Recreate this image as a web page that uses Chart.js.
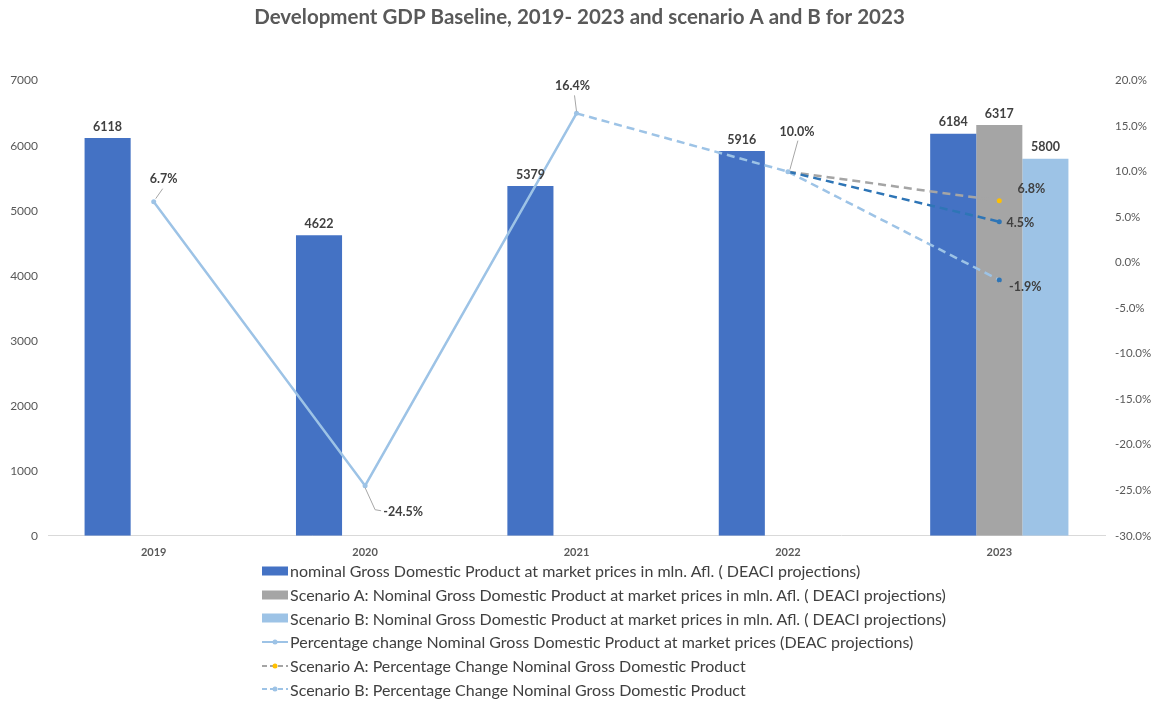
<!DOCTYPE html>
<html>
<head>
<meta charset="utf-8">
<script src="https://cdn.jsdelivr.net/npm/chart.js@4/dist/chart.umd.min.js"></script>
<style>
  body { margin: 0; background: #fff; font-family: Lato, "Open Sans", sans-serif; }
  #wrap { position: relative; width: 1163px; height: 702px; }
  #legend { position: absolute; left: 262px; top: 559px; }
  .item { display: flex; align-items: center; height: 23.7px; font-size: 16px; color: #404040; white-space: nowrap; }
  .item svg { margin-right: 2px; }
</style>
</head>
<body>
<div id="wrap">
  <canvas id="myChart"></canvas>
  <div id="legend"></div>
</div>
<script>
const years = ['2019', '2020', '2021', '2022', '2023'];

const gdpNominal = [6118, 4622, 5379, 5916, 6184];
const gdpScenarioA = [null, null, null, null, 6317];
const gdpScenarioB = [null, null, null, null, 5800];

const pctChange = [6.7, -24.5, 16.4, 10.0, 4.5];
const pctScenarioA = [null, null, null, 10.0, 6.8];
const pctScenarioB = [null, null, null, 10.0, -1.9];

const leftTicks = [0, 1000, 2000, 3000, 4000, 5000, 6000, 7000];
const rightTicks = [-30, -25, -20, -15, -10, -5, 0, 5, 10, 15, 20];

const BLUE = '#4472C4', GREY = '#A5A5A5', LIGHT = '#9DC3E6', DARK = '#2E75B6', ORANGE = '#FFC000';

// label placement for the percentage points (offset from the point, optional leader line)
const pctLabelPlacement = {
  3: [
    { dx: 10, dy: -23, leader: [2, -3, 9, -13] },
    { dx: 38, dy: 26, leader: [0, 2, 10, 24, 16, 25] },
    { dx: -4, dy: -27, leader: [0, -2, -2, -18] },
    { dx: 9, dy: -40, leader: [2, -2, 10, -31] },
    { dx: 21, dy: 1 }
  ],
  4: [null, null, null, null, { dx: 32, dy: -12 }],
  5: [null, null, null, null, { dx: 26, dy: 7, leader: [0, 2, 3, 7, 8, 7] }]
};

const valueLabels = {
  id: 'valueLabels',
  afterDatasetsDraw(chart) {
    const ctx = chart.ctx;
    ctx.save();
    ctx.font = 'bold 12.5px Lato, sans-serif';
    ctx.fillStyle = '#404040';
    ctx.textAlign = 'center';
    chart.data.datasets.forEach((ds, i) => {
      const meta = chart.getDatasetMeta(i);
      if (ds.type === 'bar') {
        ctx.textBaseline = 'bottom';
        meta.data.forEach((el, j) => {
          if (ds.data[j] == null) return;
          ctx.fillText(ds.data[j], el.x, el.y - 5);
        });
      } else {
        const place = pctLabelPlacement[i];
        ctx.textBaseline = 'middle';
        meta.data.forEach((el, j) => {
          const p = place && place[j];
          if (!p || ds.data[j] == null) return;
          if (p.leader) {
            ctx.strokeStyle = '#A6A6A6';
            ctx.lineWidth = 1;
            ctx.beginPath();
            for (let k = 0; k < p.leader.length; k += 2) {
              const fn = k === 0 ? 'moveTo' : 'lineTo';
              ctx[fn](el.x + p.leader[k], el.y + p.leader[k + 1]);
            }
            ctx.stroke();
          }
          ctx.fillText(ds.data[j].toFixed(1) + '%', el.x + p.dx, el.y + p.dy);
        });
      }
    });
    ctx.restore();
  }
};

const datasets = [
  {
    type: 'bar', label: 'nominal Gross Domestic Product at market prices in mln. Afl. ( DEACI projections)',
    data: gdpNominal, backgroundColor: BLUE, yAxisID: 'y', order: 2
  },
  {
    type: 'bar', label: 'Scenario A: Nominal Gross Domestic Product at market prices in mln. Afl. ( DEACI projections)',
    data: gdpScenarioA, backgroundColor: GREY, yAxisID: 'y', order: 2
  },
  {
    type: 'bar', label: 'Scenario B: Nominal Gross Domestic Product at market prices in mln. Afl. ( DEACI projections)',
    data: gdpScenarioB, backgroundColor: LIGHT, yAxisID: 'y', order: 2
  },
  {
    type: 'line', label: 'Percentage change Nominal Gross Domestic Product at market prices (DEAC projections)',
    data: pctChange, yAxisID: 'y1', order: 0,
    borderColor: LIGHT, borderWidth: 2.5,
    pointRadius: 2.5, pointBackgroundColor: [LIGHT, LIGHT, LIGHT, LIGHT, DARK], pointBorderWidth: 0,
    segment: {
      borderDash: c => c.p0DataIndex >= 2 ? [8, 5] : undefined,
      borderColor: c => c.p0DataIndex === 3 ? DARK : LIGHT
    }
  },
  {
    type: 'line', label: 'Scenario A: Percentage Change Nominal Gross Domestic Product',
    data: pctScenarioA, yAxisID: 'y1', order: 1,
    borderColor: GREY, borderWidth: 2.5, borderDash: [8, 5],
    pointRadius: [0, 0, 0, 0, 2.5], pointBackgroundColor: ORANGE, pointBorderWidth: 0
  },
  {
    type: 'line', label: 'Scenario B: Percentage Change Nominal Gross Domestic Product',
    data: pctScenarioB, yAxisID: 'y1', order: 1,
    borderColor: LIGHT, borderWidth: 2.5, borderDash: [8, 5],
    pointRadius: [0, 0, 0, 0, 2.5], pointBackgroundColor: DARK, pointBorderWidth: 0
  }
];

const ctx = document.getElementById('myChart').getContext('2d');
new Chart(ctx, {
  data: { labels: years, datasets: datasets },
  plugins: [valueLabels],
  options: {
    responsive: true,
    maintainAspectRatio: false,
    animation: false,
    layout: { padding: { left: 8, right: 12, bottom: 141, top: 0 } },
    datasets: { bar: { categoryPercentage: 0.654, barPercentage: 1 } },
    scales: {
      x: {
        grid: { display: false },
        border: { color: '#D9D9D9' },
        ticks: { color: '#595959', font: { family: 'Lato', size: 11, weight: 'bold' }, padding: 2 }
      },
      y: {
        position: 'left', min: 0, max: 7000,
        afterBuildTicks: s => { s.ticks = leftTicks.map(v => ({ value: v })); },
        afterFit: s => { s.width = 40; },
        grid: { display: false, drawTicks: false },
        border: { display: false },
        ticks: { color: '#595959', font: { family: 'Lato', size: 12 }, padding: 10, callback: v => String(v) }
      },
      y1: {
        position: 'right', min: -30, max: 20,
        afterBuildTicks: s => { s.ticks = rightTicks.map(v => ({ value: v })); },
        afterFit: s => { s.width = 46; },
        grid: { display: false, drawTicks: false },
        border: { display: false },
        ticks: {
          color: '#595959', font: { family: 'Lato', size: 11.5 }, padding: 10,
          callback: v => v.toFixed(1) + '%'
        }
      }
    },
    plugins: {
      title: {
        display: true,
        text: 'Development GDP Baseline, 2019- 2023 and scenario A and B for 2023',
        color: '#595959',
        font: { family: 'Lato', size: 20.5, weight: 'bold' },
        padding: { top: 5, bottom: 51 }
      },
      legend: { display: false },
      tooltip: { enabled: false }
    }
  }
});

// legend built from the datasets, one item per row
const legendEl = document.getElementById('legend');
datasets.forEach(ds => {
  const row = document.createElement('div');
  row.className = 'item';
  let swatch;
  if (ds.type === 'bar') {
    swatch = `<svg width="26" height="12"><rect x="0" y="1.5" width="26" height="9" fill="${ds.backgroundColor}"/></svg>`;
  } else {
    const dash = ds.borderDash ? 'stroke-dasharray="5 3"' : '';
    const dot = Array.isArray(ds.pointBackgroundColor) ? ds.pointBackgroundColor[0] : ds.pointBackgroundColor;
    const dotColor = ds.label.startsWith('Scenario B') ? LIGHT : dot;
    swatch = `<svg width="26" height="12"><line x1="0" y1="6" x2="26" y2="6" stroke="${ds.borderColor}" stroke-width="2" ${dash}/><circle cx="13" cy="6" r="2.5" fill="${dotColor}"/></svg>`;
  }
  row.innerHTML = swatch + '<span>' + ds.label + '</span>';
  legendEl.appendChild(row);
});
</script>
</body>
</html>
